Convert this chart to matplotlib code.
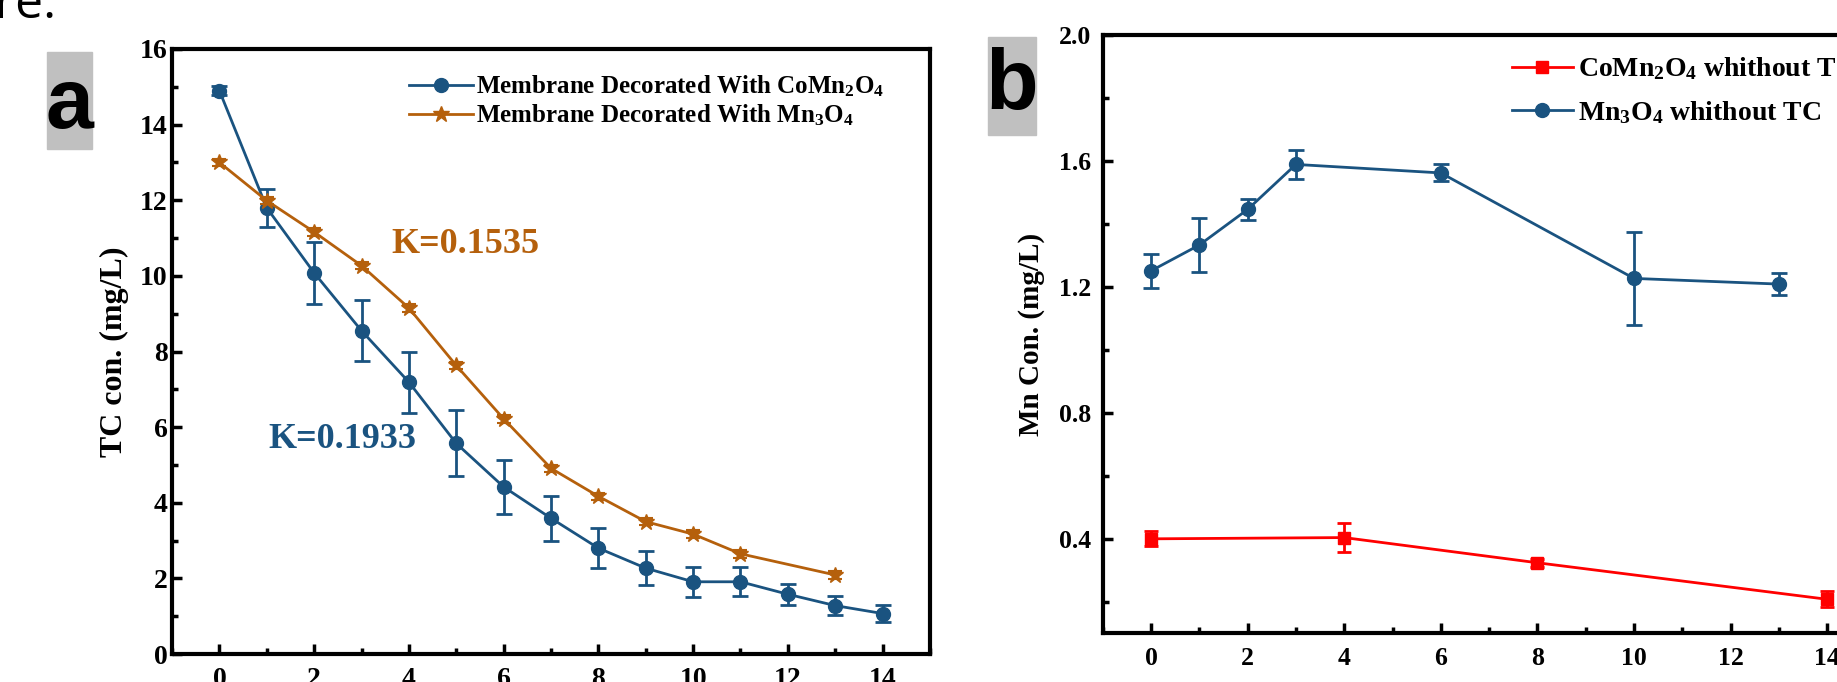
import matplotlib
matplotlib.use("Agg")
import matplotlib.pyplot as plt
from matplotlib.lines import Line2D
from matplotlib.patches import Rectangle
from matplotlib.ticker import MultipleLocator

plt.rcParams["font.family"] = ["Liberation Serif", "DejaVu Serif"]
plt.rcParams["font.weight"] = "bold"
plt.rcParams["mathtext.fontset"] = "custom"
plt.rcParams["mathtext.rm"] = "Liberation Serif:bold"
plt.rcParams["mathtext.it"] = "Liberation Serif:bold"
plt.rcParams["mathtext.bf"] = "Liberation Serif:bold"

# ---- panel a: TC removal ----
time_co = list(range(15))
tc_co = [14.9, 11.8, 10.08, 8.55, 7.19, 5.57, 4.42, 3.59, 2.80, 2.27, 1.91, 1.91, 1.58, 1.28, 1.07]
tc_co_err = [0.12, 0.5, 0.82, 0.81, 0.81, 0.87, 0.72, 0.6, 0.52, 0.45, 0.4, 0.38, 0.28, 0.25, 0.23]

time_mn = [0, 1, 2, 3, 4, 5, 6, 7, 8, 9, 10, 11, 13]
tc_mn = [13.0, 11.99, 11.16, 10.27, 9.15, 7.63, 6.22, 4.91, 4.17, 3.50, 3.17, 2.65, 2.09]
tc_mn_err = [0.1] * 13

# ---- panel b: Mn leaching ----
time_b_co = [0, 4, 8, 14]
mn_co = [0.40, 0.404, 0.324, 0.208]
mn_co_err = [0.024, 0.045, 0.012, 0.025]

time_b_mn = [0, 1, 2, 3, 6, 10, 13]
mn_mn = [1.251, 1.333, 1.446, 1.589, 1.562, 1.227, 1.209]
mn_mn_err = [0.055, 0.087, 0.032, 0.045, 0.027, 0.148, 0.036]

blue = "#1a5380"
orange = "#b5600c"
red = "#ff0000"

W, H = 1837, 682
fig = plt.figure(figsize=(W / 100, H / 100), dpi=100)


def box(l, t, r, b):
    return [l / W, 1 - b / H, (r - l) / W, (b - t) / H]


def style_axes(ax, tick_size, pad_x, pad_y):
    for s in ax.spines.values():
        s.set_linewidth(3)
    ax.tick_params(which="both", direction="in", top=False, right=False, width=2.5)
    ax.tick_params(which="major", length=7, labelsize=tick_size)
    ax.tick_params(which="minor", length=4)
    ax.tick_params(axis="x", which="major", pad=pad_x)
    ax.tick_params(axis="y", which="major", pad=pad_y)


# Panel a
ax1 = fig.add_axes(box(172, 49, 930, 654))
ax1.errorbar(time_co, tc_co, yerr=tc_co_err, fmt="none", ecolor=blue,
             elinewidth=2, capsize=6, capthick=2)
ax1.plot(time_co, tc_co, "-o", color=blue, lw=2, ms=10)
ax1.errorbar(time_mn, tc_mn, yerr=tc_mn_err, fmt="none", ecolor=orange,
             elinewidth=1.5, capsize=5, capthick=1.5)
ax1.plot(time_mn, tc_mn, "-*", color=orange, lw=2, ms=12)

ax1.set_xlim(-1, 15)
ax1.set_ylim(0, 16)
ax1.xaxis.set_major_locator(MultipleLocator(2))
ax1.xaxis.set_minor_locator(MultipleLocator(1))
ax1.yaxis.set_major_locator(MultipleLocator(2))
ax1.yaxis.set_minor_locator(MultipleLocator(1))
style_axes(ax1, 20, 9, 3)
ax1.set_ylabel("TC con. (mg/L)", fontsize=23, fontweight="bold")
ax1.yaxis.set_label_coords(-0.057, 0.5)

ax1.text(3.63, 10.61, "K=0.1535", color=orange, fontsize=26, fontweight="bold")
ax1.text(1.04, 5.46, "K=0.1933", color=blue, fontsize=26, fontweight="bold")

handles_a = [
    Line2D([], [], color=blue, lw=2, marker="o", ms=10),
    Line2D([], [], color=orange, lw=2, marker="*", ms=12),
]
labels_a = ["Membrane Decorated With CoMn$_2$O$_4$",
            "Membrane Decorated With Mn$_3$O$_4$"]
ax1.legend(handles_a, labels_a, loc="upper left", frameon=False,
           bbox_to_anchor=((409 - 172) / 758, (654 - 73.5) / 605),
           borderpad=0, borderaxespad=0, handlelength=2.55, handletextpad=0.12,
           labelspacing=0.15, prop={"size": 18, "weight": "bold"})

# Panel b (runs past the right edge like the cropped original)
ax2 = fig.add_axes(box(1102.7, 35, 1102.7 + 16 * 48.3, 633.3))
ax2.errorbar(time_b_co, mn_co, yerr=mn_co_err, fmt="none", ecolor=red,
             elinewidth=2, capsize=5, capthick=2)
ax2.plot(time_b_co, mn_co, "-s", color=red, lw=2, ms=9)
ax2.errorbar(time_b_mn, mn_mn, yerr=mn_mn_err, fmt="none", ecolor=blue,
             elinewidth=2, capsize=6, capthick=2)
ax2.plot(time_b_mn, mn_mn, "-o", color=blue, lw=2, ms=10)

ax2.set_xlim(-1, 15)
ax2.set_ylim(0.1, 2.0)
ax2.xaxis.set_major_locator(MultipleLocator(2))
ax2.xaxis.set_minor_locator(MultipleLocator(1))
ax2.yaxis.set_major_locator(MultipleLocator(0.4))
ax2.yaxis.set_minor_locator(MultipleLocator(0.2))
ax2.set_yticks([0.4, 0.8, 1.2, 1.6, 2.0])
ax2.set_yticklabels(["0.4", "0.8", "1.2", "1.6", "2.0"])
style_axes(ax2, 18.5, 10, 8)
ax2.set_ylabel("Mn Con. (mg/L)", fontsize=21, fontweight="bold")
ax2.yaxis.set_label_coords(-0.075, 0.5)

handles_b = [
    Line2D([], [], color=red, lw=2, marker="s", ms=9),
    Line2D([], [], color=blue, lw=2, marker="o", ms=10),
]
labels_b = ["CoMn$_2$O$_4$ whithout TC", "Mn$_3$O$_4$ whithout TC"]
ax2.legend(handles_b, labels_b, loc="upper left", frameon=False,
           bbox_to_anchor=((1511.6 - 1102.7) / 772.8, (633.3 - 55.5) / 598.3),
           borderpad=0, borderaxespad=0, handlelength=2.2, handletextpad=0.2,
           labelspacing=0.6, prop={"size": 20, "weight": "bold"})

# panel letters on grey tags
fig.patches.append(Rectangle((47 / W, 1 - 149 / H), 45 / W, 97 / H,
                             transform=fig.transFigure, color="#c0c0c0"))
fig.text(69.5 / W, 1 - 106 / H, "a", fontsize=62, fontweight="bold",
         family="Liberation Sans", ha="center", va="center")
fig.patches.append(Rectangle((988 / W, 1 - 135 / H), 48 / W, 98 / H,
                             transform=fig.transFigure, color="#c0c0c0"))
fig.text(1012 / W, 1 - 87 / H, "b", fontsize=62, fontweight="bold",
         family="Liberation Sans", ha="center", va="center")

# cut-off caption text from the page above
fig.text(56 / W, 1 - 18 / H, "ure.", fontsize=36, family="Open Sans",
         fontweight="normal", ha="right", va="baseline")

fig.savefig("out.png", dpi=100)
